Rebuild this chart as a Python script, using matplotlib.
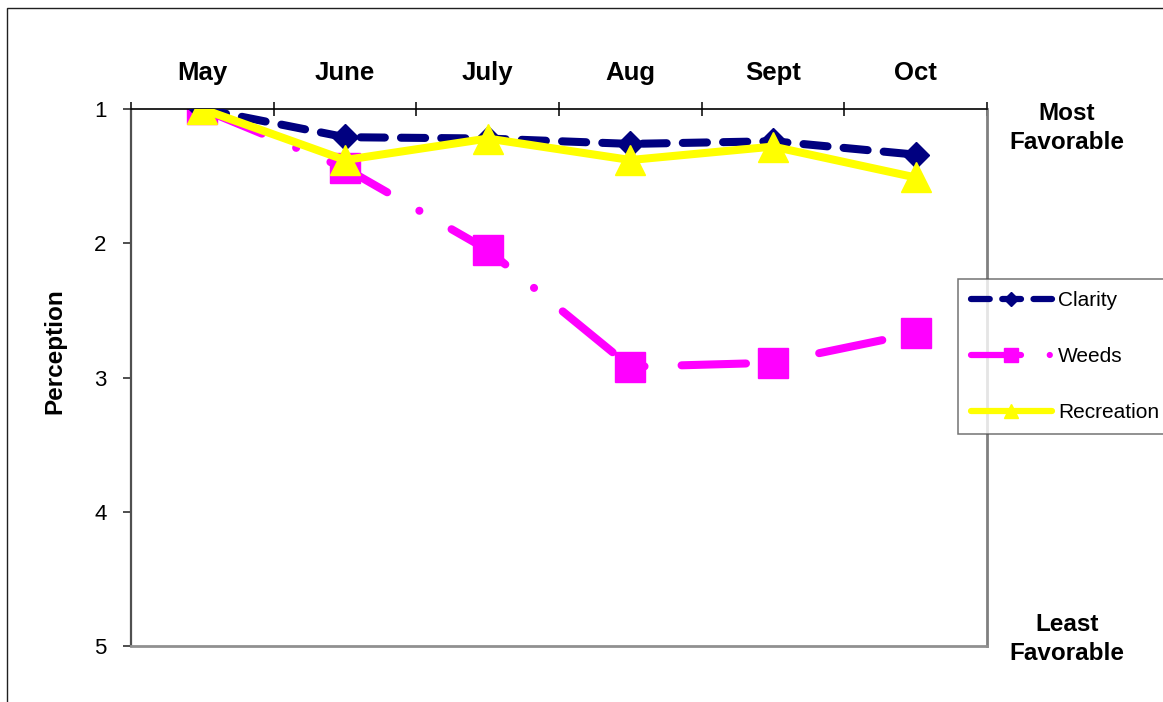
import matplotlib.pyplot as plt
from matplotlib.patches import Rectangle
from matplotlib.ticker import FixedLocator

plt.rcParams['font.family'] = ['Liberation Sans', 'DejaVu Sans']

months = ["May", "June", "July", "Aug", "Sept", "Oct"]
clarity = [1.0, 1.21, 1.22, 1.26, 1.24, 1.34]
weeds = [1.0, 1.44, 2.05, 2.92, 2.89, 2.67]
recreation = [1.0, 1.38, 1.22, 1.38, 1.28, 1.51]

W, H = 1163, 702
fig = plt.figure(figsize=(W / 100, H / 100), dpi=100)
ax = fig.add_axes([131 / W, 1 - 646 / H, 856 / W, 537 / H])

x = range(len(months))
lw = 5.8
ax.plot(x, clarity, color="#000080", lw=lw, dashes=(3, 2), dash_capstyle="round",
        marker="D", ms=13.5, label="Clarity", zorder=3)
ax.plot(x, weeds, color="#FF00FF", lw=lw, dashes=(8, 4.6, 0.01, 4.6), dash_capstyle="round",
        marker="s", ms=21.5, label="Weeds", zorder=2)
ax.plot(x, recreation, color="#FFFF00", lw=lw, solid_capstyle="round",
        marker="^", ms=21.5, label="Recreation", zorder=4)

ax.set_xlim(-0.5, len(months) - 0.5)
ax.set_ylim(5, 1)

# category labels on top, tick marks on the category boundaries
ax.xaxis.tick_top()
ax.set_xticks(list(x))
ax.set_xticklabels(months, fontsize=18.5, fontweight="bold")
ax.xaxis.set_minor_locator(FixedLocator([i - 0.5 for i in range(len(months) + 1)]))
ax.tick_params(axis="x", which="major", length=0, pad=17)
ax.tick_params(axis="x", which="minor", direction="inout", length=10, width=1.1, color="black")

ax.set_yticks([1, 2, 3, 4, 5])
ax.tick_params(axis="y", direction="out", length=6, width=1.3, color="#404040",
               labelsize=16, pad=11.5)
ax.set_ylabel("Perception", fontsize=17.5, fontweight="bold")
ax.yaxis.set_label_coords(-0.075, 0.549)

ax.spines["top"].set_color("black")
ax.spines["top"].set_linewidth(1.2)
ax.spines["left"].set_color("#505050")
ax.spines["left"].set_linewidth(1.6)
ax.spines["right"].set_color("#808080")
ax.spines["right"].set_linewidth(2)
ax.spines["bottom"].set_color("#909090")
ax.spines["bottom"].set_linewidth(2)

fig.text(1067 / W, 1 - 128 / H, "Most\nFavorable", fontsize=17.5, fontweight="bold",
         ha="center", va="center", linespacing=1.3)
fig.text(1067 / W, 1 - 639 / H, "Least\nFavorable", fontsize=17.5, fontweight="bold",
         ha="center", va="center", linespacing=1.3)

leg = ax.legend(loc="upper left", bbox_to_anchor=(958 / W, 1 - 279 / H),
                bbox_transform=fig.transFigure, fontsize=15, frameon=True,
                fancybox=False, borderaxespad=0, borderpad=0.6, labelspacing=1.76,
                handlelength=3.9, handletextpad=0.3, markerscale=0.5)
leg.get_frame().set_edgecolor("#505050")
leg.get_frame().set_linewidth(1.1)
for h in leg.get_lines():
    h.set_linewidth(4.5)

# outer chart frame
fig.add_artist(Rectangle((7 / W, -0.1), 2, 1 - 8 / H + 0.1, transform=fig.transFigure,
                         fill=False, ec="#202020", lw=1))

fig.savefig("out.png", dpi=100)
